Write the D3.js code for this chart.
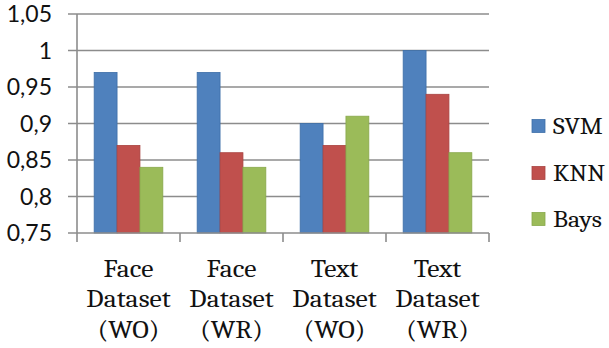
<!DOCTYPE html>
<html><head><meta charset="utf-8">
<script src="https://cdn.jsdelivr.net/npm/d3@7"></script>
<style>body{margin:0;background:#fff}svg{display:block}</style>
</head><body>
<svg id="c" width="609" height="348"></svg>
<script>
const categories = [["Face","Dataset","(WO)"],["Face","Dataset","(WR)"],["Text","Dataset","(WO)"],["Text","Dataset","(WR)"]];
const seriesNames = ["SVM","KNN","Bays"];
const svmValues  = [0.97, 0.97, 0.90, 1.00];
const knnValues  = [0.87, 0.86, 0.87, 0.94];
const baysValues = [0.84, 0.84, 0.91, 0.86];
const yTicks = [0.75, 0.8, 0.85, 0.9, 0.95, 1, 1.05];
const yTickLabels = ["0,75","0,8","0,85","0,9","0,95","1","1,05"];
const colors = ["#4F81BD","#C0504D","#9BBB59"];
const strokes = ["#3E6FA8","#A94442","#88A84B"];

const series = [svmValues, knnValues, baysValues];
const svg = d3.select("#c");
const pl = 77, pr = 489, pt = 14, pb = 233;
const y = d3.scaleLinear().domain([0.75, 1.05]).range([pb, pt]);
const x = d3.scaleBand().domain(d3.range(categories.length)).range([pl, pr]).padding(0);
const xs = d3.scaleBand().domain(d3.range(seriesNames.length)).range([0, x.bandwidth()]).paddingInner(0).paddingOuter(0.75);
const gridColor = "#8c8c8c";
const serif = "Cambria, 'Liberation Serif', serif";

// gridlines
svg.append("g").selectAll("line").data(yTicks.slice(1)).join("line")
  .attr("x1", pl - 9).attr("x2", pr)
  .attr("y1", d => y(d)).attr("y2", d => y(d))
  .attr("stroke", gridColor).attr("stroke-width", 1.6);

// bars
const g = svg.append("g");
categories.forEach((c, i) => {
  series.forEach((vals, s) => {
    g.append("rect")
      .attr("x", x(i) + xs(s))
      .attr("y", y(vals[i]))
      .attr("width", xs.bandwidth())
      .attr("height", y(0.75) - y(vals[i]))
      .attr("fill", colors[s])
      .attr("stroke", strokes[s]).attr("stroke-width", 0.8);
  });
});

// axes
svg.append("line").attr("x1", pl).attr("x2", pl).attr("y1", pt).attr("y2", pb)
  .attr("stroke", gridColor).attr("stroke-width", 1.6);
svg.append("line").attr("x1", pl - 9).attr("x2", pr).attr("y1", pb).attr("y2", pb)
  .attr("stroke", gridColor).attr("stroke-width", 1.6);
svg.append("g").selectAll("line").data(d3.range(categories.length + 1)).join("line")
  .attr("x1", d => pl + d * x.step()).attr("x2", d => pl + d * x.step())
  .attr("y1", pb).attr("y2", pb + 9)
  .attr("stroke", gridColor).attr("stroke-width", 1.6);

// y labels
svg.append("g").selectAll("text").data(yTicks).join("text")
  .attr("x", 52).attr("y", d => y(d)).attr("dy", "0.36em")
  .attr("text-anchor", "end")
  .attr("font-family", "Lato, sans-serif").attr("font-size", 23).attr("fill", "#111")
  .text((d, i) => yTickLabels[i]);

// x labels
categories.forEach((lines, i) => {
  const t = svg.append("text").attr("text-anchor", "middle")
    .attr("transform", `translate(${x(i) + x.bandwidth() / 2},0) scale(1.13,1)`)
    .attr("font-family", serif).attr("font-size", 24.5).attr("fill", "#111");
  lines.forEach((ln, k) => {
    t.append("tspan").attr("x", 0).attr("y", 277 + k * 30.5).text(ln);
  });
});

// legend
const ly = [126, 173, 219];
seriesNames.forEach((n, s) => {
  svg.append("rect").attr("x", 532).attr("y", ly[s] - 6.5).attr("width", 13).attr("height", 13)
    .attr("fill", colors[s]).attr("stroke", strokes[s]).attr("stroke-width", 0.8);
  svg.append("text").attr("transform", `translate(553,${ly[s]}) scale(1.1,1)`).attr("dy", "0.35em")
    .attr("font-family", serif).attr("font-size", 23.5).attr("fill", "#111").text(n);
});
</script>
</body></html>
